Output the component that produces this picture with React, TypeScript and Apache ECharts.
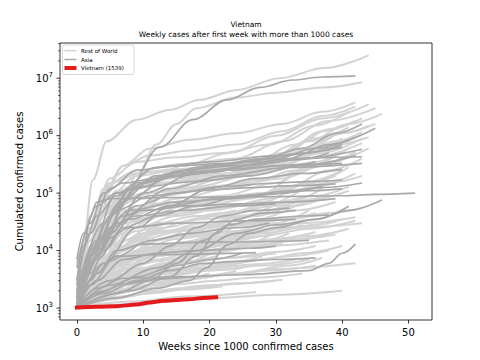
import React, { useEffect, useRef } from 'react';
import * as echarts from 'echarts';

const titleText = 'Vietnam';
const subtitleText = 'Weekly cases after first week with more than 1000 cases';
const xName = 'Weeks since 1000 confirmed cases';
const yName = 'Cumulated confirmed cases';
const legendLabels = ['Rest of World', 'Asia', 'Vietnam (1539)'];

const X_MIN = -2.55;
const X_MAX = 53.55;
const Y_MIN = 620;
const Y_MAX = 4.1e7;

const xTicks = [0, 10, 20, 30, 40, 50];
const yMajorTicks = [1e3, 1e4, 1e5, 1e6, 1e7];
const yMinorTicks = [
  700, 800, 900,
  2000, 3000, 4000, 5000, 6000, 7000, 8000, 9000,
  2e4, 3e4, 4e4, 5e4, 6e4, 7e4, 8e4, 9e4,
  2e5, 3e5, 4e5, 5e5, 6e5, 7e5, 8e5, 9e5,
  2e6, 3e6, 4e6, 5e6, 6e6, 7e6, 8e6, 9e6,
  2e7, 3e7, 4e7,
];

const vietnam = [[0, 1020], [3, 1050], [6, 1080], [9, 1150], [11, 1250], [13, 1340], [17, 1420], [19, 1500], [21, 1539]];

const restOfWorld: number[][][] = [
  [[0, 1500], [1, 1.5e4], [2.4, 1.7e5], [4.5, 8e5], [9, 1.9e6], [14, 2.8e6], [18.5, 4.2e6], [24, 6.2e6], [30.6, 1e7], [37.3, 1.5e7], [44, 2.5e7]],
  [[0, 1000], [3, 6000], [6, 4e4], [9, 2e5], [12, 7e5], [15, 1.6e6], [18, 3e6], [24, 4.6e6], [30, 5.6e6], [37, 6.9e6], [43, 8.5e6]],
  [[0, 1200], [2, 1e4], [4, 8e4], [7, 3e5], [11, 6e5], [17, 8.5e5], [24, 1.1e6], [31, 1.6e6], [37, 2.6e6], [42, 3.8e6]],
  [[0, 1000], [3, 8000], [6, 5e4], [10, 1.5e5], [16, 3e5], [23, 5e5], [30, 1e6], [37, 2e6], [44, 3.5e6]],
  [[0, 1800], [2, 2e4], [5, 1.5e5], [9, 2.5e5], [16, 3.2e5], [24, 4e5], [31, 8e5], [38, 1.8e6], [45, 3e6]],
  [[0, 1300], [3, 1.2e4], [7, 9e4], [12, 2e5], [20, 2.6e5], [28, 3.5e5], [35, 8e5], [41, 1.6e6], [46, 2.4e6]],
  [[0, 2000], [2, 2e4], [4, 1.2e5], [8, 2.2e5], [15, 2.6e5], [24, 3e5], [31, 5e5], [37, 1.2e6], [43, 2e6]],
  [[0, 1000], [4, 1.5e4], [8, 8e4], [13, 1.5e5], [20, 2e5], [28, 2.8e5], [35, 6e5], [40, 1.1e6], [44, 1.5e6]],
  [[0, 1500], [3, 1.5e4], [6, 7e4], [11, 1.6e5], [19, 2.3e5], [27, 3e5], [34, 5e5], [39, 8e5], [43, 1.15e6]],
  [[0, 1100], [2, 5000], [5, 3e4], [10, 8e4], [18, 1.3e5], [26, 2e5], [33, 4e5], [39, 7e5], [44, 9.4e5]],
  [[0, 2500], [3, 3e4], [6, 1.1e5], [12, 1.5e5], [20, 1.7e5], [28, 2.2e5], [35, 4e5], [43, 7.4e5]],
  [[0, 1000], [3, 7000], [7, 4e4], [13, 9e4], [21, 1.3e5], [29, 1.8e5], [36, 3e5], [42, 5.2e5]],
  [[0, 1200], [4, 8000], [9, 3e4], [16, 6e4], [24, 8e4], [32, 1.1e5], [38, 1.5e5], [43, 2e5]],
  [[0, 1000], [3, 4000], [7, 1.5e4], [14, 3e4], [22, 4.5e4], [30, 6e4], [36, 8e4], [41, 1.1e5]],
  [[0, 1500], [4, 6000], [9, 1.5e4], [16, 2.2e4], [24, 2.8e4], [32, 3.5e4], [38, 4.5e4], [43, 5.5e4]],
  [[0, 1000], [5, 3000], [11, 8000], [18, 1.5e4], [26, 2.2e4], [34, 3e4], [42, 3.8e4]],
  [[0, 1300], [3, 5000], [8, 1.2e4], [15, 1.8e4], [24, 2.2e4], [33, 2.5e4], [43, 3e4]],
  [[0, 1000], [4, 2500], [10, 5000], [18, 8000], [26, 1.2e4], [33, 1.6e4], [39, 1.9e4]],
  [[0, 1100], [6, 3000], [13, 6000], [20, 9000], [28, 1.2e4], [38, 1.5e4]],
  [[0, 1000], [6, 1800], [14, 2800], [22, 3800], [30, 4800], [42, 6000]],
  [[0, 1000], [10, 1200], [20, 1500], [30, 1700], [40, 2000]],
  [[0, 1000], [5, 1500], [12, 2000], [20, 2500], [31, 3100]],
  [[0, 1000], [8, 1300], [17, 1600], [27, 1900]],
  [[0, 1000], [2, 1.2e4], [5, 9e4], [9, 2e5], [15, 2.5e5], [22, 2.8e5], [30, 4e5], [36, 9e5], [41, 1.4e6]],
  [[0, 3000], [2, 3e4], [5, 1.5e5], [10, 2.3e5], [18, 2.7e5], [26, 3.2e5], [33, 7e5], [38, 1.3e6], [42, 1.8e6]],
  [[0, 1400], [3, 1.8e4], [6, 6e4], [11, 1e5], [18, 1.5e5], [27, 2.5e5], [34, 6e5], [40, 1.1e6], [45, 1.6e6]],
  [[0, 1000], [4, 1e4], [9, 5e4], [15, 1.1e5], [22, 1.8e5], [30, 3e5], [37, 5e5], [43, 9e5]],
  [[0, 2000], [3, 1.5e4], [7, 5e4], [14, 7e4], [22, 9e4], [30, 1.5e5], [36, 3.5e5], [41, 6e5]],
  [[0, 1000], [2, 6000], [6, 3.5e4], [12, 6e4], [20, 7.5e4], [28, 1e5], [34, 2.5e5], [39, 4.5e5]],
  [[0, 1600], [3, 1e4], [8, 4e4], [15, 8e4], [23, 1.2e5], [31, 2e5], [38, 3.5e5], [44, 6e5]],
  [[0, 1200], [3, 9000], [7, 3e4], [12, 4e4], [20, 5e4], [28, 7e4], [35, 1.5e5], [41, 2.8e5]],
  [[0, 1000], [3, 3000], [7, 8000], [12, 1.5e4], [18, 2.5e4], [25, 4e4], [32, 7e4], [37, 1.2e5]],
  [[0, 1100], [4, 4000], [9, 1e4], [15, 1.6e4], [22, 2e4], [30, 3e4], [35, 5e4]],
  [[0, 1000], [3, 2000], [8, 5000], [14, 1e4], [20, 1.8e4], [27, 3.5e4], [33, 6e4]],
  [[0, 1300], [2, 3500], [6, 8000], [11, 1.1e4], [18, 1.3e4], [25, 1.6e4], [31, 2.3e4]],
  [[0, 1000], [5, 2000], [10, 3500], [16, 6000], [22, 1e4], [29, 1.8e4]],
  [[0, 1200], [4, 2500], [9, 4000], [15, 5000], [22, 6000], [28, 8000]],
  [[0, 1000], [3, 1600], [8, 2500], [14, 3500], [20, 5000], [26, 7000]],
  [[0, 1500], [3, 5000], [7, 1.5e4], [12, 3e4], [18, 4e4], [24, 5e4]],
  [[0, 1000], [2, 2500], [5, 6000], [10, 1e4], [16, 1.2e4], [22, 1.5e4]],
  [[0, 1000], [4, 1500], [9, 2200], [14, 3000], [20, 4000]],
  [[0, 1100], [3, 2000], [7, 3200], [12, 4500], [18, 5500]],
  [[0, 1000], [3, 3000], [6, 9000], [10, 2e4], [15, 3e4]],
  [[0, 1200], [4, 2200], [8, 3000], [13, 3500], [17, 4200]],
  [[0, 1000], [2, 1500], [5, 2200], [9, 2800], [14, 3300]],
  [[0, 1000], [3, 1800], [6, 2500], [10, 3000]],
  [[0, 1400], [3, 4000], [7, 1e4], [12, 2e4], [19, 3e4], [26, 4e4], [32, 6e4], [38, 1e5]],
  [[0, 1000], [2, 2500], [6, 7000], [12, 1.2e4], [20, 1.6e4], [28, 2e4], [36, 2.8e4], [40, 3.5e4]],
  [[0, 1000], [5, 1800], [11, 2500], [17, 3200], [24, 4000], [32, 5500], [37, 7500]],
  [[0, 1200], [3, 3500], [7, 1.2e4], [13, 2.5e4], [21, 4e4], [29, 6.5e4], [36, 1.3e5], [42, 2.2e5]],
  [[0, 1000], [2, 1e4], [4, 5e4], [8, 1.3e5], [14, 1.8e5], [22, 2.2e5], [29, 2.8e5], [35, 5e5], [40, 9e5]],
  [[0, 1500], [2, 4000], [5, 1.2e4], [9, 2.5e4], [15, 4e4], [22, 5.5e4], [29, 8e4], [35, 1.6e5], [40, 2.5e5]],
  [[0, 1000], [4, 2000], [8, 3500], [14, 6000], [20, 9000], [26, 1.3e4], [32, 2e4]],
  [[0, 1000], [3, 1800], [7, 3000], [11, 4500], [16, 6500], [21, 8000]],
  [[0, 6000], [2, 2e4], [5, 6e4], [10, 1e5], [18, 1.2e5], [26, 1.5e5], [33, 2.5e5], [38, 4e5]],
  [[0, 1000], [2, 2000], [5, 4000], [9, 7000], [14, 1e4], [20, 1.3e4], [26, 1.6e4]],
  [[0, 1100], [3, 2500], [7, 5000], [12, 8000], [18, 1.1e4], [24, 1.4e4]],
  [[0, 1000], [2, 1800], [5, 3000], [9, 4500], [13, 6000]],
  [[0, 1200], [3, 3000], [6, 6000], [10, 9000], [15, 1.2e4], [21, 1.5e4], [28, 2e4], [34, 2.8e4]],
  [[0, 1000], [4, 3500], [8, 9000], [13, 1.6e4], [19, 2.2e4], [25, 2.8e4], [31, 3.6e4]],
  [[0, 1300], [2, 4500], [5, 1.2e4], [9, 2.2e4], [14, 3e4], [20, 3.6e4], [27, 4.2e4], [33, 5e4], [39, 7e4]],
  [[0, 1000], [3, 2200], [7, 4500], [12, 7000], [17, 9000], [22, 1.1e4]],
  [[0, 1000], [2, 3000], [4, 8000], [8, 1.6e4], [13, 2.2e4], [19, 2.6e4], [25, 3e4], [31, 3.5e4], [36, 4.5e4]],
  [[0, 1500], [3, 6000], [6, 1.8e4], [10, 3.5e4], [16, 5e4], [23, 6e4], [30, 7e4], [36, 9e4], [41, 1.3e5]],
  [[0, 1000], [2, 4000], [5, 1.5e4], [9, 3.5e4], [15, 6e4], [22, 8e4], [29, 1e5], [35, 1.6e5]],
  [[0, 2000], [2, 7000], [5, 2.5e4], [9, 5e4], [14, 7e4], [21, 8.5e4], [28, 1e5], [34, 1.4e5], [39, 2e5]],
  [[0, 1000], [3, 2000], [6, 3500], [10, 5000], [15, 6000], [20, 7000]],
  [[0, 1100], [2, 2000], [4, 3000], [7, 4000], [11, 5000], [16, 6000], [23, 7500], [30, 9000]],
  [[0, 1000], [1, 1500], [3, 2500], [6, 3500], [9, 4000]],
  [[0, 1000], [2, 1400], [5, 1900], [8, 2300]],
  [[0, 1200], [3, 2800], [7, 6000], [12, 1e4], [19, 1.5e4], [26, 2e4], [33, 2.6e4], [39, 3.2e4]],
  [[0, 1000], [4, 3000], [9, 7000], [15, 1.2e4], [21, 1.5e4], [28, 1.8e4], [35, 2.4e4], [42, 3.3e4]],
  [[0, 1500], [2, 8000], [4, 3e4], [7, 7e4], [11, 1e5], [17, 1.2e5], [24, 1.4e5], [31, 1.8e5], [37, 3e5], [42, 5e5]],
  [[0, 1000], [2, 9000], [4, 4e4], [7, 1e5], [12, 1.5e5], [19, 1.8e5], [26, 2.2e5], [33, 4e5], [39, 7.5e5]],
  [[0, 2500], [2, 1.5e4], [5, 7e4], [9, 1.3e5], [15, 1.6e5], [23, 1.9e5], [30, 2.5e5], [36, 5e5], [41, 8e5]],
  [[0, 1000], [3, 5000], [7, 2e4], [12, 4e4], [19, 6e4], [26, 8e4], [32, 1.3e5], [38, 2.5e5], [43, 4e5]],
  [[0, 1200], [2, 3500], [5, 9000], [9, 1.6e4], [14, 2.2e4], [20, 2.8e4], [27, 4e4], [33, 6e4], [38, 9e4]],
  [[0, 1000], [2, 2000], [5, 5000], [9, 9000], [14, 1.3e4], [19, 1.6e4]],
  [[0, 1300], [3, 4000], [6, 9000], [10, 1.4e4], [16, 1.8e4], [23, 2.1e4], [30, 2.4e4], [36, 2.8e4]],
  [[0, 1000], [3, 2500], [7, 6000], [11, 1e4], [16, 1.4e4], [22, 1.8e4], [28, 2.2e4]],
  [[0, 1000], [2, 1.5e4], [4, 1e5], [7, 3e5], [11, 4.5e5], [17, 5.5e5], [24, 7e5], [31, 1.2e6], [37, 2.2e6], [42, 3.2e6]],
  [[0, 2000], [2, 2.5e4], [5, 1.8e5], [9, 3.5e5], [15, 4.2e5], [22, 5e5], [29, 7e5], [36, 1.5e6], [41, 2.6e6]],
  [[0, 1000], [3, 1300], [7, 1600], [12, 1900], [18, 2300], [24, 2700], [30, 3000]],
  [[0, 1100], [4, 1600], [9, 2100], [15, 2600], [21, 3000], [27, 3400], [34, 4000]],
  [[0, 1000], [2, 1200], [6, 1500], [11, 1800], [16, 2100], [22, 2400]],
  [[0, 1200], [3, 2000], [7, 3000], [12, 4000], [18, 5000], [25, 6500], [32, 8000], [38, 1e4]],
  [[0, 1000], [3, 2500], [7, 4500], [12, 6500], [18, 8500], [25, 1.1e4], [31, 1.3e4]],
  [[0, 1300], [2, 2800], [5, 5000], [9, 7000], [14, 8500], [20, 1e4], [27, 1.2e4], [33, 1.5e4], [38, 2e4]],
  [[0, 1000], [4, 1800], [9, 2800], [15, 3800], [21, 4600], [28, 5500], [35, 7000]],
  [[0, 1000], [2, 1700], [5, 2600], [9, 3400], [14, 4000], [19, 4500], [25, 5000]],
  [[0, 1100], [3, 1500], [7, 2000], [12, 2600], [17, 3200], [23, 3800], [29, 4500], [36, 5500]],
  [[0, 1000], [5, 1400], [10, 1800], [15, 2200], [20, 2500]],
  [[0, 1500], [2, 3000], [5, 5500], [9, 8000], [14, 1e4], [20, 1.2e4], [26, 1.4e4], [32, 1.7e4]],
  [[0, 1000], [3, 3500], [6, 7000], [10, 1e4], [15, 1.2e4], [21, 1.3e4], [28, 1.5e4], [35, 1.8e4], [41, 2.4e4]],
  [[0, 1200], [3, 2200], [6, 3200], [10, 4000], [15, 4500], [21, 5000], [27, 5800], [33, 7000]],
  [[0, 1000], [2, 1300], [4, 1700], [7, 2100], [11, 2500], [15, 2800]],
  [[0, 1000], [3, 1500], [6, 2000], [10, 2500], [14, 3000], [19, 3600], [24, 4400]],
  [[0, 1100], [2, 2500], [4, 4500], [8, 7000], [13, 9000], [18, 1.1e4], [24, 1.3e4], [30, 1.6e4], [36, 2.1e4]],
  [[0, 1000], [3, 2000], [6, 3000], [10, 3800], [16, 4500], [22, 5500], [28, 7000], [34, 9000], [40, 1.2e4]],
  [[0, 1400], [3, 3000], [7, 5500], [12, 8000], [18, 1e4], [24, 1.2e4]],
  [[0, 1000], [2, 1600], [5, 2400], [8, 3000], [12, 3500]],
  [[0, 1000], [4, 2300], [8, 4000], [12, 5500], [17, 6500], [23, 7500], [30, 9500], [36, 1.2e4]],
];

const asia: number[][][] = [
  [[0, 1500], [3, 8000], [5, 2.5e4], [7.5, 1.1e5], [12.5, 6.3e5], [17.5, 1.9e6], [22.6, 4.2e6], [27.6, 6.9e6], [32.5, 9.3e6], [37, 1.05e7], [42, 1.1e7]],
  [[0, 1500], [3, 1.5e4], [7, 8e4], [12, 2e5], [20, 3e5], [28, 4e5], [34, 6e5], [39, 1.1e6], [43, 1.6e6]],
  [[0, 2000], [4, 3e4], [9, 1.5e5], [16, 2.5e5], [24, 3e5], [32, 4e5], [38, 7e5], [45, 1.35e6]],
  [[0, 1200], [3, 1e4], [8, 8e4], [14, 2e5], [22, 3.2e5], [30, 4e5], [36, 6e5], [42, 9.4e5]],
  [[0, 1000], [5, 2e4], [10, 1e5], [18, 2.2e5], [26, 3e5], [34, 4e5], [43, 5.8e5]],
  [[0, 1500], [2, 1e4], [6, 1e5], [12, 2.8e5], [20, 3.5e5], [30, 4.5e5], [40, 6.3e5]],
  [[0, 1000], [3, 8000], [7, 4e4], [14, 1.2e5], [22, 2e5], [32, 2.8e5], [43, 3.3e5]],
  [[0, 3000], [1, 1.2e4], [3, 4e4], [6, 9e4], [10, 1.5e5], [16, 2.5e5], [22, 3e5], [28, 4e5], [34, 5e5], [40, 7e5]],
  [[0, 5000], [2, 3e4], [4, 1e5], [7, 1.5e5], [12, 1.8e5], [20, 2.3e5], [28, 3.3e5], [34, 4e5], [38, 5e5]],
  [[0, 1000], [1, 1e4], [2, 4e4], [3, 7e4], [5, 8e4], [10, 8.3e4], [20, 8.5e4], [30, 8.7e4], [40, 9e4], [45, 9.5e4], [51, 1e5]],
  [[0, 1000], [2, 4000], [5, 2e4], [9, 6e4], [15, 1e5], [22, 1.3e5], [30, 1.5e5], [36, 1.6e5], [40, 1.7e5]],
  [[0, 1400], [3, 1.2e4], [6, 5e4], [11, 9e4], [18, 1.1e5], [26, 1.25e5], [33, 1.35e5], [39, 1.45e5]],
  [[0, 1000], [4, 1e4], [8, 3.5e4], [14, 6e4], [21, 8e4], [28, 9.5e4], [35, 1.1e5], [40, 1.2e5]],
  [[0, 2000], [3, 1.5e4], [8, 5e4], [15, 7e4], [23, 8e4], [31, 1e5], [37, 1.25e5], [43, 1.5e5]],
  [[0, 1000], [6, 1500], [12, 2200], [17, 3000], [19.5, 5000], [22.7, 1.25e4], [26, 2e4], [30, 2.5e4], [36, 3.5e4], [41, 5.9e4]],
  [[0, 1000], [5, 2500], [12, 5000], [18, 1e4], [24, 2e4], [30, 2.8e4], [36, 3.5e4], [41, 5e4], [46, 7.6e4]],
  [[0, 1000], [3, 2200], [7, 3300], [15, 3500], [25, 3800], [35, 4500], [38, 6000], [40, 9000], [42, 1.3e4]],
  [[0, 1000], [3, 4000], [6, 1e4], [10, 1.3e4], [20, 1.4e4], [35, 1.5e4]],
  [[0, 1200], [3, 8000], [6, 3e4], [10, 5e4], [17, 6e4], [25, 6.5e4], [32, 7e4], [39, 8e4]],
  [[0, 1000], [8, 2000], [14, 3500], [18, 8000], [21, 2e4], [24, 3.5e4], [28, 4.5e4], [33, 5e4]],
  [[0, 1100], [5, 3000], [10, 6000], [14, 1.2e4], [18, 2.5e4], [22, 4e4], [27, 5e4], [32, 5.5e4]],
  [[0, 1000], [6, 1800], [11, 3000], [15, 6000], [19, 1.5e4], [23, 2.8e4], [27, 3.5e4], [34, 4e4], [38, 4.2e4]],
  [[0, 1000], [2, 5000], [4, 1.5e4], [8, 2.5e4], [15, 3e4], [25, 3.3e4], [33, 3.5e4]],
  [[0, 1500], [2, 8000], [5, 2.5e4], [9, 4e4], [16, 5e4], [24, 6e4], [30, 6.5e4]],
  [[0, 1000], [3, 3000], [7, 7000], [12, 9000], [18, 1e4], [26, 1.1e4], [30, 1.2e4]],
  [[0, 2500], [2, 2e4], [5, 1.2e5], [9, 2.5e5], [15, 3e5], [22, 3.3e5], [30, 3.6e5], [38, 4.2e5], [43, 4.3e5]],
  [[0, 1000], [3, 1.2e4], [6, 6e4], [10, 1.5e5], [16, 2.3e5], [24, 2.7e5], [31, 3e5], [37, 3.2e5], [40, 3.3e5]],
  [[0, 1800], [2, 8000], [5, 4e4], [9, 1.2e5], [15, 2e5], [23, 2.5e5], [31, 3e5], [36, 3.5e5]],
  [[0, 1000], [4, 6000], [9, 2.5e4], [14, 6e4], [20, 1.2e5], [27, 1.8e5], [34, 2.2e5], [40, 2.6e5]],
  [[0, 1200], [3, 7000], [7, 2.5e4], [12, 4e4], [18, 6e4], [25, 9e4], [32, 1.1e5], [37, 1.3e5]],
  [[0, 1000], [2, 2500], [6, 8000], [11, 1.5e4], [17, 2e4], [24, 2.5e4], [29, 3e4]],
  [[0, 7000], [1, 2e4], [3, 6e4], [6, 1e5], [10, 1.3e5], [18, 1.6e5], [26, 2e5], [34, 3e5], [42, 4.5e5]],
  [[0, 1000], [4, 2000], [9, 3500], [15, 5500], [20, 7000], [25, 9000]],
  [[0, 1000], [3, 1800], [7, 2600], [12, 3200], [18, 3600]],
  [[0, 1000], [2, 3000], [4, 6000], [7, 8000], [12, 8500], [20, 8800], [27, 9200]],
  [[0, 1000], [4, 1800], [9, 3000], [14, 4500], [19, 6000], [24, 6500], [30, 7000], [36, 7500]],
];

const LIGHT = '#d3d3d3';
const DARK = '#a9a9a9';
const RED = '#e41a1c';
const FONT = 'DejaVu Sans';

function lineSeries(data: number[][], name: string, color: string, width: number, z: number) {
  return {
    type: 'line',
    name,
    data,
    showSymbol: false,
    symbol: 'none',
    smooth: 0.35,
    smoothMonotone: 'x',
    silent: true,
    z,
    emphasis: { disabled: true },
    lineStyle: { color, width, cap: 'butt', join: 'round' },
  };
}

function tickSeries(values: number[], len: number, width: number) {
  return {
    type: 'custom',
    coordinateSystem: 'cartesian2d',
    silent: true,
    clip: false,
    z: 20,
    data: values.map((v) => [X_MIN, v]),
    renderItem: (_p: any, api: any) => {
      const pt = api.coord([api.value(0), api.value(1)]);
      return {
        type: 'line',
        shape: { x1: pt[0] - len, y1: pt[1], x2: pt[0], y2: pt[1] },
        style: { stroke: '#000', lineWidth: width },
      };
    },
  };
}

export default function App() {
  const ref = useRef<HTMLDivElement>(null);
  useEffect(() => {
    if (!ref.current) return;
    const chart = echarts.init(ref.current, undefined, { renderer: 'svg' });
    const series: any[] = [];
    restOfWorld.forEach((d) => series.push(lineSeries(d, legendLabels[0], LIGHT, 2, 2)));
    asia.forEach((d) => series.push(lineSeries(d, legendLabels[1], DARK, 1.7, 3)));
    const vn: any = lineSeries(vietnam, legendLabels[2], RED, 4, 4);
    vn.lineStyle.cap = 'square';
    series.push(vn);
    series.push(tickSeries(yMajorTicks, 3.5, 0.8));
    series.push(tickSeries(yMinorTicks, 2, 0.6));

    const lx1 = 64.5, lx2 = 76.5, tx = 81;
    chart.setOption({
      animation: false,
      textStyle: { fontFamily: FONT },
      grid: { left: 60, right: 48, top: 43, bottom: 40, show: true, borderColor: '#000', borderWidth: 0.8, backgroundColor: 'transparent' },
      xAxis: {
        type: 'value',
        min: X_MIN,
        max: X_MAX,
        name: xName,
        nameLocation: 'middle',
        nameGap: 20,
        nameTextStyle: { fontSize: 10, color: '#000', fontFamily: FONT },
        axisLine: { show: false },
        splitLine: { show: false },
        axisTick: { show: true, length: 3.5, lineStyle: { color: '#000', width: 0.8 }, customValues: xTicks },
        axisLabel: { fontSize: 10, color: '#000', margin: 7, fontFamily: FONT, customValues: xTicks },
      },
      yAxis: {
        type: 'log',
        logBase: 10,
        min: Y_MIN,
        max: Y_MAX,
        name: yName,
        nameLocation: 'middle',
        nameGap: 32,
        nameTextStyle: { fontSize: 10, color: '#000', fontFamily: FONT },
        axisLine: { show: false },
        splitLine: { show: false },
        axisTick: { show: false },
        axisLabel: {
          margin: 7,
          color: '#000',
          fontFamily: FONT,
          showMinLabel: false,
          showMaxLabel: false,
          formatter: (v: number) => {
            const e = Math.log10(v);
            if (Math.abs(e - Math.round(e)) > 1e-6) return '';
            return '{b|10}{s|' + Math.round(e) + '}';
          },
          rich: {
            b: { fontSize: 10, color: '#000', fontFamily: FONT, lineHeight: 14 },
            s: { fontSize: 7, color: '#000', fontFamily: FONT, verticalAlign: 'top', lineHeight: 8 },
          },
        },
      },
      series,
      graphic: [
        { type: 'text', x: 246, y: 24, z: 100, style: { text: titleText, fontSize: 7.5, fontFamily: FONT, fill: '#000', align: 'center', verticalAlign: 'middle' } },
        { type: 'text', x: 246, y: 34, z: 100, style: { text: subtitleText, fontSize: 7.5, fontFamily: FONT, fill: '#000', align: 'center', verticalAlign: 'middle' } },
        { type: 'rect', z: 100, shape: { x: 62.5, y: 45, width: 71.5, height: 29.5, r: 2 }, style: { fill: 'rgba(255,255,255,0.8)', stroke: '#cccccc', lineWidth: 0.8 } },
        { type: 'line', z: 101, shape: { x1: lx1, y1: 50.7, x2: lx2, y2: 50.7 }, style: { stroke: LIGHT, lineWidth: 1.5 } },
        { type: 'text', z: 101, x: tx, y: 50.7, style: { text: legendLabels[0], fontSize: 5.5, fontFamily: FONT, fill: '#000', verticalAlign: 'middle' } },
        { type: 'line', z: 101, shape: { x1: lx1, y1: 59.5, x2: lx2, y2: 59.5 }, style: { stroke: DARK, lineWidth: 1.5 } },
        { type: 'text', z: 101, x: tx, y: 59.5, style: { text: legendLabels[1], fontSize: 5.5, fontFamily: FONT, fill: '#000', verticalAlign: 'middle' } },
        { type: 'line', z: 101, shape: { x1: lx1, y1: 68, x2: lx2, y2: 68 }, style: { stroke: RED, lineWidth: 4 } },
        { type: 'text', z: 101, x: tx, y: 68, style: { text: legendLabels[2], fontSize: 5.5, fontFamily: FONT, fill: '#000', verticalAlign: 'middle' } },
      ],
    });
    return () => chart.dispose();
  }, []);
  return <div ref={ref} style={{ position: 'fixed', left: 0, top: 0, width: 480, height: 360, background: '#fff' }} />;
}
